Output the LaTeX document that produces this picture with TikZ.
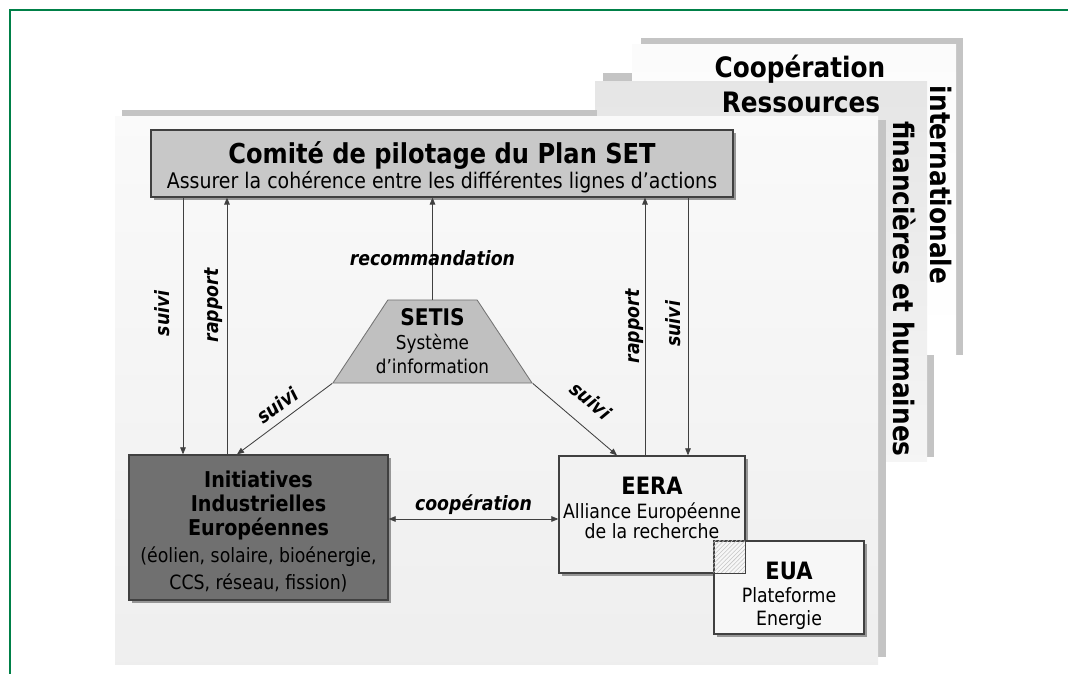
\documentclass[tikz,border=0pt]{standalone}
\usepackage{fontspec}
\setmainfont[FakeStretch=0.88]{DejaVu Sans}
\usetikzlibrary{positioning, arrows.meta, shapes.geometric, shadows, patterns}
\definecolor{framecol}{RGB}{0, 128, 72}
\definecolor{barcol}{RGB}{196, 196, 196}
\definecolor{linecol}{RGB}{64, 64, 64}
\definecolor{pilotcol}{RGB}{200, 200, 200}
\definecolor{iiecol}{RGB}{112, 112, 112}
\definecolor{setiscol}{RGB}{192, 192, 192}
\definecolor{eeracol}{RGB}{242, 242, 242}
\newcommand{\iiehead}{\fontsize{15.5}{17}\selectfont\bfseries}

\begin{document}
\begin{tikzpicture}[x=0.025cm, y=-0.025cm,
    box/.style={rectangle, draw=linecol, line width=0.9pt, align=center, inner sep=0pt,
      drop shadow={shadow xshift=2pt, shadow yshift=-2pt, fill=black!50, opacity=.8}},
    arr/.style={linecol, line width=0.6pt, -{Triangle[length=5pt, width=4pt]}},
    biarr/.style={arr, {Triangle[length=5pt, width=4pt]}-{Triangle[length=5pt, width=4pt]}},
    lbl/.style={font=\fontsize{14}{16}\selectfont\bfseries\itshape, text=black, inner sep=2pt},
    big/.style={font=\fontsize{20}{22}\selectfont\bfseries, inner sep=0pt}]
  \useasboundingbox (0,0) rectangle (1068,674);
  % panneaux de fond
  \fill[barcol] (603,73) rectangle (927,82);
  \fill[barcol] (927,73) rectangle (934,457);
  \fill[barcol] (641,38) rectangle (963,45);
  \fill[barcol] (956,38) rectangle (963,355);
  \fill[top color=gray!3, bottom color=white] (632,45) rectangle (956,355);
  \fill[top color=gray!20, bottom color=gray!8] (595,82) rectangle (927,462);
  \fill[barcol] (122,110) rectangle (597,117);
  \fill[barcol] (878,120) rectangle (886,657);
  \fill[top color=gray!4, bottom color=gray!13] (115,117) rectangle (878,665);
  \draw[framecol, line width=2pt] (10,674) -- (10,10) -- (1068,10);

  \node[big] (coop) at (800,69) {Coopération};
  \node[big, rotate=-90] (inter) at (941,185) {internationale};
  \node[big] (ress) at (801,102) {Ressources};
  \node[big, rotate=-90] (finan) at (905,289) {financières et humaines};

  % les acteurs
  \node[box, fill=pilotcol, minimum width=14.55cm, minimum height=1.675cm, text height=39pt,
        font=\fontsize{15.3}{18}\selectfont] (pilot) at (442,163.5)
        {{\fontsize{19.5}{18}\selectfont\bfseries Comité de pilotage du Plan SET}\\Assurer la cohérence entre les différentes lignes d’actions};
  \node[box, fill=iiecol, draw=black!75, minimum width=6.475cm, minimum height=3.625cm, text height=90pt,
        font=\fontsize{14}{17}\selectfont] (iie) at (258.5,527.5)
        {{\iiehead Initiatives}\\{\iiehead Industrielles}\\{\iiehead Européennes}\\[2.5pt](éolien, solaire, bioénergie,\\[2pt]CCS, réseau, fission)};
  \node[trapezium, trapezium angle=58.4, trapezium stretches=true, minimum width=4.975cm,
        minimum height=2.075cm, fill=setiscol, draw=black!55, line width=0.6pt, inner sep=1pt] (setis) at (432.5,341.5) {};
  \node[font=\fontsize{13.6}{17}\selectfont, align=center] (setistxt) at (setis.center)
        {{\fontsize{16.3}{17}\selectfont\bfseries SETIS}\\Système\\d’information};
  \node[box, fill=eeracol, minimum width=4.65cm, minimum height=2.925cm, text depth=9pt,
        font=\fontsize{14}{14.2}\selectfont] (eera) at (652,514.5)
        {{\fontsize{17}{14.2}\selectfont\bfseries EERA}\\[3pt]Alliance Européenne\\de la recherche};
  \node[box, fill=eeracol!60!white, minimum width=3.75cm, minimum height=2.325cm, text height=57pt,
        font=\fontsize{14}{16.5}\selectfont] (eua) at (789,587.5)
        {{\fontsize{17}{16.5}\selectfont\bfseries EUA}\\Plateforme\\Energie};
  \fill[pattern=north east lines, pattern color=gray!45] (eua.north west) rectangle (eera.south east);
  \draw[linecol, line width=0.9pt] (eera.north west) rectangle (eera.south east);

  % liaisons
  \coordinate (xa) at (183,0);
  \coordinate (xb) at (227,0);
  \coordinate (xd) at (645,0);
  \coordinate (xe) at (688,0);
  \coordinate (xf) at (237,0);
  \coordinate (xg) at (617,0);
  \coordinate (yc) at (0,519);
  \draw[arr] (pilot.south -| xa) -- node[lbl, rotate=90, anchor=south, pos=.45, inner ysep=9pt] {suivi} (iie.north -| xa);
  \draw[arr] (iie.north -| xb) -- node[lbl, rotate=90, anchor=south, pos=.58, inner ysep=3pt] {rapport} (pilot.south -| xb);
  \draw[arr] (setis.north) -- node[lbl, pos=.41] {recommandation} (setis.north |- pilot.south);
  \draw[arr] (eera.north -| xd) -- node[lbl, rotate=90, anchor=south, pos=.5, inner ysep=1pt] {rapport} (pilot.south -| xd);
  \draw[arr] (pilot.south -| xe) -- node[lbl, rotate=90, anchor=south, pos=.49, inner ysep=5pt] {suivi} (eera.north -| xe);
  \draw[arr] (setis.bottom left corner) -- node[lbl, sloped, above=3pt, pos=.48] {suivi} (iie.north -| xf);
  \draw[arr] (setis.bottom right corner) -- node[lbl, sloped, above=10pt, pos=.5] {suivi} (eera.north -| xg);
  \draw[biarr] (iie.east |- yc) -- node[lbl, above=1pt] {coopération} (eera.west |- yc);
\end{tikzpicture}
\end{document}
